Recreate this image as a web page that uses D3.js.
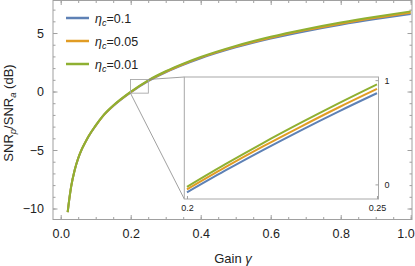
<html>
<head>
<script src="https://d3js.org/d3.v7.min.js"></script>
<style>
body { margin: 0; background: white; }
text { font-family: "Liberation Sans", Arial, sans-serif; fill: #222; }
.frame .domain { display: none; }
.frame line { stroke: #a0a0a0; }
.frame text { font-size: 12.5px; }
.inset .domain { display: none; }
.inset line { stroke: #a0a0a0; }
.inset text { font-size: 9px; }
</style>
</head>
<body>
<svg id="chart" width="415" height="266"></svg>
<script>
// main curves
const gammas = [0.02, 0.025, 0.03, 0.04, 0.05, 0.06, 0.07, 0.08, 0.10, 0.12, 0.15, 0.2, 0.25, 0.3, 0.35, 0.4, 0.5, 0.6, 0.7, 0.8, 0.9, 1.0];
const snrEta01 = [-10.31, -9.11, -8.11, -6.71, -5.71, -4.96, -4.37, -3.82, -2.92, -2.13, -1.24, -0.075, 0.88, 1.64, 2.28, 2.84, 3.77, 4.53, 5.16, 5.71, 6.19, 6.62];
const snrEta005 = [-10.3, -9.1, -8.1, -6.7, -5.7, -4.95, -4.36, -3.81, -2.91, -2.12, -1.22, -0.048, 0.92, 1.69, 2.33, 2.9, 3.84, 4.6, 5.25, 5.8, 6.3, 6.74];
const snrEta001 = [-10.3, -9.1, -8.1, -6.7, -5.7, -4.95, -4.35, -3.8, -2.9, -2.1, -1.2, -0.023, 0.96, 1.73, 2.38, 2.95, 3.9, 4.68, 5.33, 5.9, 6.4, 6.85];

// zoomed inset
const insetGammas = [0.2, 0.21, 0.22, 0.23, 0.24, 0.25];
const insetEta01 = [-0.077, 0.131, 0.329, 0.519, 0.701, 0.875];
const insetEta005 = [-0.048, 0.163, 0.364, 0.555, 0.74, 0.916];
const insetEta001 = [-0.023, 0.192, 0.397, 0.592, 0.78, 0.96];

const etaLabels = ["0.1", "0.05", "0.01"];
const colors = ["#5e81b5", "#e19c24", "#8fb032"];

const xTicks = [0, 0.2, 0.4, 0.6, 0.8, 1.0];
const yTicks = [-10, -5, 0, 5];
const insetXTicks = [0.2, 0.25];
const insetYTicks = [0, 1];

const svg = d3.select("#chart");
const frame = {left: 53, right: 412, top: 0.5, bottom: 219.5};

const x = d3.scaleLinear().domain([-0.022, 1.0037]).range([frame.left, frame.right]);
const y = d3.scaleLinear().domain([-10.94, 7.78]).range([frame.bottom, frame.top]);

const axes = svg.append("g").attr("class", "frame");

// minor ticks first, then the labelled majors
const xMinor = d3.range(0, 1.001, 0.05);
const yMinor = d3.range(-10, 7.5, 1);

axes.append("g").attr("transform", `translate(0,${frame.bottom})`)
    .call(d3.axisBottom(x).tickValues(xMinor).tickSize(-2.5).tickFormat(""));
axes.append("g").attr("transform", `translate(0,${frame.top})`)
    .call(d3.axisTop(x).tickValues(xMinor).tickSize(-2.5).tickFormat(""));
axes.append("g").attr("transform", `translate(${frame.left},0)`)
    .call(d3.axisLeft(y).tickValues(yMinor).tickSize(-2.5).tickFormat(""));
axes.append("g").attr("transform", `translate(${frame.right},0)`)
    .call(d3.axisRight(y).tickValues(yMinor).tickSize(-2.5).tickFormat(""));

const bottomAxis = axes.append("g").attr("transform", `translate(0,${frame.bottom})`)
    .call(d3.axisBottom(x).tickValues(xTicks).tickSize(-4.5).tickPadding(10).tickFormat(d3.format(".1f")));
// last label sits right on the window edge, keep it inside
bottomAxis.selectAll("text").filter(d => d === 1.0)
    .attr("text-anchor", "end").attr("dx", 3.5);

axes.append("g").attr("transform", `translate(0,${frame.top})`)
    .call(d3.axisTop(x).tickValues(xTicks).tickSize(-4.5).tickFormat(""));
axes.append("g").attr("transform", `translate(${frame.left},0)`)
    .call(d3.axisLeft(y).tickValues(yTicks).tickSize(-4.5).tickPadding(9).tickFormat(d => d < 0 ? "\u2212" + (-d) : d));
axes.append("g").attr("transform", `translate(${frame.right},0)`)
    .call(d3.axisRight(y).tickValues(yTicks).tickSize(-4.5).tickFormat(""));

svg.append("rect")
    .attr("x", frame.left).attr("y", frame.top)
    .attr("width", frame.right - frame.left).attr("height", frame.bottom - frame.top)
    .attr("fill", "none").attr("stroke", "#a0a0a0").attr("stroke-width", 1);

// curves
const mainSeries = [snrEta01, snrEta005, snrEta001];
const line = d3.line().x((d, i) => x(gammas[i])).y(d => y(d)).curve(d3.curveMonotoneX);

svg.append("g").selectAll("path").data(mainSeries).join("path")
    .attr("d", d => line(d))
    .attr("fill", "none")
    .attr("stroke", (d, i) => colors[i])
    .attr("stroke-width", 2);

// zoom box + inset
const ix = d3.scaleLinear().domain([0.1993, 0.2504]).range([184.3, 378.5]);
const iy = d3.scaleLinear().domain([-0.14, 1.03]).range([199, 77]);

const boxL = x(ix.domain()[0]), boxR = x(ix.domain()[1]);
const boxT = y(iy.domain()[1]), boxB = y(iy.domain()[0]);

svg.append("rect")
    .attr("x", boxL).attr("y", boxT).attr("width", boxR - boxL).attr("height", boxB - boxT)
    .attr("fill", "none").attr("stroke", "#a8a8a8").attr("stroke-width", 0.9);

svg.append("line")
    .attr("x1", boxL).attr("y1", boxB).attr("x2", ix.range()[0]).attr("y2", iy.range()[0])
    .attr("stroke", "#888").attr("stroke-width", 0.8);
svg.append("line")
    .attr("x1", boxR).attr("y1", boxT).attr("x2", ix.range()[0]).attr("y2", iy.range()[1])
    .attr("stroke", "#888").attr("stroke-width", 0.8);

const inset = svg.append("g").attr("class", "inset");

inset.append("rect")
    .attr("x", ix.range()[0]).attr("y", iy.range()[1])
    .attr("width", ix.range()[1] - ix.range()[0]).attr("height", iy.range()[0] - iy.range()[1])
    .attr("fill", "white").attr("stroke", "#a8a8a8").attr("stroke-width", 1);

inset.append("g").attr("transform", `translate(0,${iy.range()[0]})`)
    .call(d3.axisBottom(ix).tickValues(insetXTicks).tickSize(-3).tickPadding(6).tickFormat(d => d));
inset.append("g").attr("transform", `translate(${ix.range()[1]},0)`)
    .call(d3.axisRight(iy).tickValues(insetYTicks).tickSize(-3).tickPadding(6).tickFormat(d => d));

const insetSeries = [insetEta01, insetEta005, insetEta001];
const insetLine = d3.line().x((d, i) => ix(insetGammas[i])).y(d => iy(d)).curve(d3.curveMonotoneX);

inset.append("g").selectAll("path").data(insetSeries).join("path")
    .attr("d", d => insetLine(d))
    .attr("fill", "none")
    .attr("stroke", (d, i) => colors[i])
    .attr("stroke-width", 2);

// legend
const legend = svg.append("g");
etaLabels.forEach((lab, i) => {
    const ly = 18 + i * 23;
    legend.append("line")
        .attr("x1", 66).attr("x2", 89).attr("y1", ly).attr("y2", ly)
        .attr("stroke", colors[i]).attr("stroke-width", 2.5);
    const t = legend.append("text")
        .attr("x", 95).attr("y", ly + 4.5)
        .style("font-size", "12.5px");
    t.append("tspan").attr("font-style", "italic").text("\u03b7");
    t.append("tspan").attr("font-style", "italic").attr("dy", 3).style("font-size", "9px").text("c");
    t.append("tspan").attr("dy", -3).text("=" + lab);
});

// axis titles
const xt = svg.append("text")
    .attr("x", 233).attr("y", 263)
    .attr("text-anchor", "middle")
    .style("font-size", "13px");
xt.append("tspan").text("Gain ");
xt.append("tspan").attr("font-style", "italic").text("\u03b3");

const yt = svg.append("text")
    .attr("transform", "translate(13,113) rotate(-90)")
    .attr("text-anchor", "middle")
    .style("font-size", "13px");
yt.append("tspan").text("SNR");
yt.append("tspan").attr("font-style", "italic").attr("dy", 3).style("font-size", "9.5px").text("p");
yt.append("tspan").attr("dy", -3).text("/SNR");
yt.append("tspan").attr("font-style", "italic").attr("dy", 3).style("font-size", "9.5px").text("a");
yt.append("tspan").attr("dy", -3).text(" (dB)");
</script>
</body>
</html>
